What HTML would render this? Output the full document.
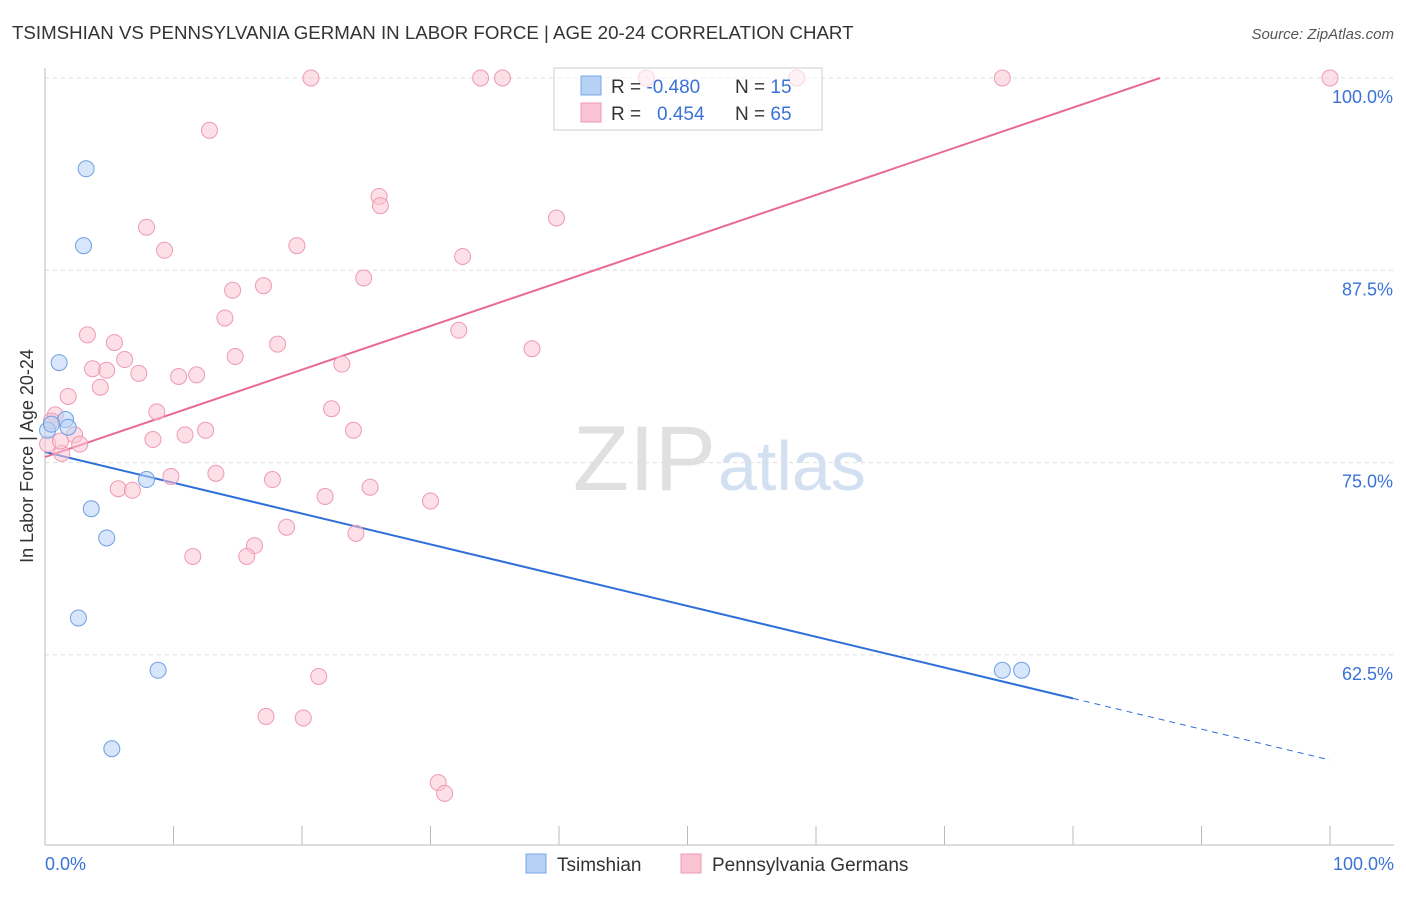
<!DOCTYPE html>
<html><head><meta charset="utf-8"><style>
body{margin:0;background:#fff;font-family:"Liberation Sans",sans-serif;}
svg text{font-family:"Liberation Sans",sans-serif;}
</style></head><body>
<svg id="chart" width="1406" height="892" viewBox="0 0 1406 892" xmlns="http://www.w3.org/2000/svg">
<text x="12" y="39" font-size="18.7" fill="#333">TSIMSHIAN VS PENNSYLVANIA GERMAN IN LABOR FORCE | AGE 20-24 CORRELATION CHART</text>
<text x="1394" y="39" font-size="15" fill="#555" font-style="italic" text-anchor="end">Source: ZipAtlas.com</text>
<text x="716" y="490" font-size="92" fill="#e0e0e0" text-anchor="end" font-family="Liberation Serif">ZIP</text>
<text x="718" y="490" font-size="70" fill="#d3e0f2">atlas</text>
<text transform="translate(33,456) rotate(-90)" font-size="18" fill="#333" text-anchor="middle">In Labor Force | Age 20-24</text>
<g id="grid"></g><g id="axes"></g><g id="lines"></g><g id="points"></g>
<g>
<rect x="554" y="68" width="268" height="62" fill="#fff" fill-opacity="0.6" stroke="#ccc"/>
<rect x="581" y="76" width="20" height="19" fill="#b7d1f5" stroke="#7aa6e6"/>
<rect x="581" y="103" width="20" height="19" fill="#f9c4d4" stroke="#ee9ab4"/>
<text x="611" y="93" font-size="19" fill="#333">R = <tspan fill="#3a72d8">-0.480</tspan></text>
<text x="735" y="93" font-size="19" fill="#333">N = <tspan fill="#3a72d8">15</tspan></text>
<text x="611" y="120" font-size="19" fill="#333">R = <tspan fill="#3a72d8" x="657">0.454</tspan></text>
<text x="735" y="120" font-size="19" fill="#333">N = <tspan fill="#3a72d8">65</tspan></text>
</g>
<g>
<rect x="526" y="854" width="20" height="19" fill="#b7d1f5" stroke="#7aa6e6"/>
<text x="557" y="871" font-size="19" fill="#333">Tsimshian</text>
<rect x="681" y="854" width="20" height="19" fill="#f9c4d4" stroke="#ee9ab4"/>
<text x="712" y="871" font-size="19" fill="#333">Pennsylvania Germans</text>
</g>
</svg>
<script>
const xTickLabels=["0.0%","100.0%"];
const yTicks=[100,87.5,75,62.5];
const yTickLabels=["100.0%","87.5%","75.0%","62.5%"];
const blueX=[3.2,3.0,1.1,1.6,1.8,0.2,0.5,7.9,3.6,4.8,2.6,8.8,74.5,76.0,5.2];
const blueY=[94.1,89.1,81.5,77.8,77.3,77.1,77.5,73.9,72.0,70.1,64.9,61.5,61.5,61.5,56.4];
const pinkX=[20.7,33.9,35.6,46.8,58.5,74.5,100,12.8,26.0,26.1,39.8,7.9,9.3,19.6,32.5,24.8,14.6,17.0,14.0,3.3,32.2,5.4,18.1,37.9,14.8,6.2,23.1,3.7,4.8,7.3,10.4,11.8,4.3,1.8,22.3,8.7,0.8,24.0,12.5,10.9,8.4,2.3,2.7,1.3,0.2,13.3,9.8,17.7,25.3,5.7,6.8,21.8,30.0,18.8,24.2,16.3,11.5,15.7,21.3,17.2,20.1,30.6,31.1,0.5,1.2];
const pinkY=[100,100,100,100,100,100,100,96.6,92.3,91.7,90.9,90.3,88.8,89.1,88.4,87.0,86.2,86.5,84.4,83.3,83.6,82.8,82.7,82.4,81.9,81.7,81.4,81.1,81.0,80.8,80.6,80.7,79.9,79.3,78.5,78.3,78.1,77.1,77.1,76.8,76.5,76.8,76.2,75.6,76.2,74.3,74.1,73.9,73.4,73.3,73.2,72.8,72.5,70.8,70.4,69.6,68.9,68.9,61.1,58.5,58.4,54.2,53.5,77.7,76.4];
const blueLine=[75.69,55.67];
const pinkLine=[75.36,100.0];
const pinkEnd=[86.77];
const NS="http://www.w3.org/2000/svg";
const X=v=>45+v/100*1285, Y=v=>78+(100-v)/12.5*192.3;
function mk(t,a,p){const e=document.createElementNS(NS,t);for(const k in a)e.setAttribute(k,a[k]);p.appendChild(e);return e;}
const grid=document.getElementById('grid'),axes=document.getElementById('axes'),lines=document.getElementById('lines'),pts=document.getElementById('points');
yTicks.forEach((t,i)=>{
 const l=mk('line',{x1:45,x2:1394,y1:Y(t),y2:Y(t),stroke:'#ddd','stroke-dasharray':'4,4'},grid);
 
 
 const tx=mk('text',{x:1393,y:Y(t)+25,'font-size':18,fill:'#3a72d8','text-anchor':'end'},grid);
 tx.textContent=yTickLabels[i];
 
 
});
let a=mk('line',{x1:45,x2:45,y1:68,y2:845,stroke:'#bbb'},axes);


a=mk('line',{x1:45,x2:1394,y1:845,y2:845,stroke:'#bbb'},axes);


for(let i=0;i<=10;i++){const t=mk('line',{x1:X(i*10),x2:X(i*10),y1:826,y2:845,stroke:'#bbb'},axes);
 
 }
[[0,'start',45],[100,'end',1394]].forEach((d,i)=>{const t=mk('text',{x:d[2],y:870,'font-size':18,fill:'#3a72d8','text-anchor':d[1]},axes);t.textContent=xTickLabels[i];
 
 });
function pt(x,y,fill,stroke,name){const c=mk('circle',{cx:X(x),cy:Y(y),r:8,fill:fill,stroke:stroke,'stroke-width':1,'fill-opacity':0.55},pts);
 
 }
pinkX.forEach((x,i)=>pt(x,pinkY[i],'#f9c4d4','#ee9ab4','pennsylvania-german-point'));
blueX.forEach((x,i)=>pt(x,blueY[i],'#b7d1f5','#6f9fe3','tsimshian-point'));
const bAt=x=>blueLine[0]+(blueLine[1]-blueLine[0])*x/100;
let l=mk('line',{x1:X(0),y1:Y(bAt(0)),x2:X(80),y2:Y(bAt(80)),stroke:'#2f6fd8','stroke-width':2},lines);


l=mk('line',{x1:X(80),y1:Y(bAt(80)),x2:X(100),y2:Y(bAt(100)),stroke:'#2f6fd8','stroke-width':1,'stroke-dasharray':'6,5'},lines);


l=mk('line',{x1:X(0),y1:Y(pinkLine[0]),x2:X(pinkEnd[0]),y2:Y(pinkLine[1]),stroke:'#e86a93','stroke-width':2},lines);


</script>
</body></html>
